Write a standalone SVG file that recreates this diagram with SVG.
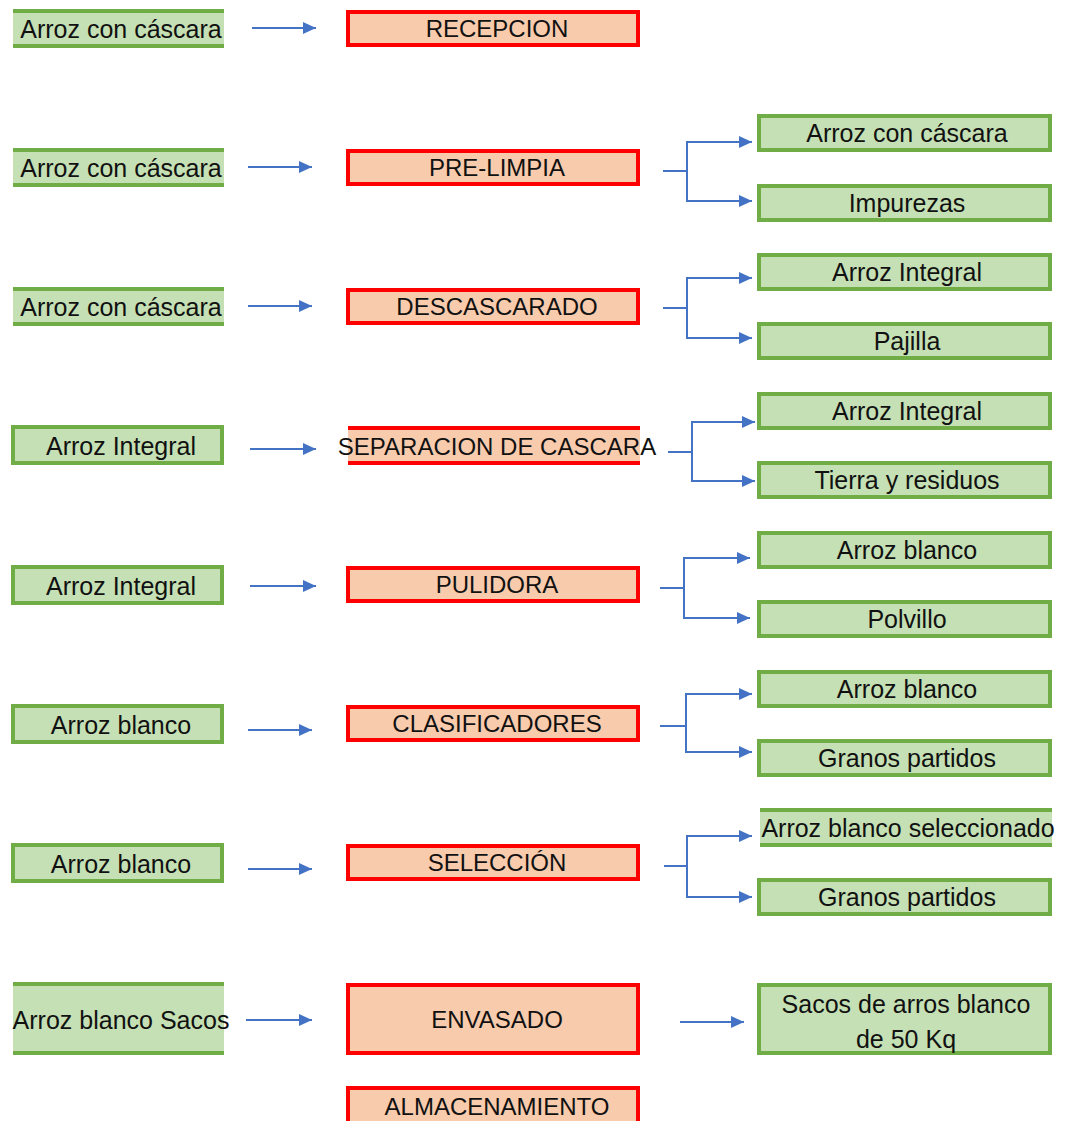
<svg xmlns="http://www.w3.org/2000/svg" width="1067" height="1121" viewBox="0 0 1067 1121">
  <style>
    .gbox { fill: #c5e0b4; stroke: #70ad47; stroke-width: 4; }
    .gfill { fill: #c5e0b4; }
    .gline { stroke: #70ad47; stroke-width: 4; }
    .obox { fill: #f8cbad; stroke: #ff0000; stroke-width: 4; }
    .ofill { fill: #f8cbad; }
    .oline { stroke: #ff0000; stroke-width: 4; }
    .t { font-family: "Liberation Sans", Arial, sans-serif; font-size: 25px; fill: #111; text-anchor: middle; }
    .c { font-family: "Liberation Sans", Arial, sans-serif; font-size: 24px; fill: #111; text-anchor: middle; }
    .link { fill: none; stroke: #4472c4; stroke-width: 2; }
  </style>
  <defs>
    <marker id="arrow" markerUnits="userSpaceOnUse" markerWidth="14" markerHeight="12" refX="13" refY="6" orient="auto">
      <path d="M0,0 L13,6 L0,12 Z" fill="#4472c4"/>
    </marker>
  </defs>
  <rect width="1067" height="1121" fill="#ffffff"/>

  <!-- inputs (left column) -->
  <g id="in-recepcion">
    <rect class="gfill" x="13" y="10" width="211" height="38"/>
    <line class="gline" x1="13" y1="11" x2="224" y2="11"/>
    <line class="gline" x1="13" y1="46" x2="224" y2="46"/>
    <text class="t" x="121" y="38">Arroz con cáscara</text>
  </g>
  <g id="in-prelimpia">
    <rect class="gfill" x="13" y="149" width="211" height="38"/>
    <line class="gline" x1="13" y1="150" x2="224" y2="150"/>
    <line class="gline" x1="13" y1="185" x2="224" y2="185"/>
    <text class="t" x="121" y="177">Arroz con cáscara</text>
  </g>
  <g id="in-descascarado">
    <rect class="gfill" x="13" y="288" width="211" height="38"/>
    <line class="gline" x1="13" y1="289" x2="224" y2="289"/>
    <line class="gline" x1="13" y1="324" x2="224" y2="324"/>
    <text class="t" x="121" y="316">Arroz con cáscara</text>
  </g>
  <g id="in-separacion">
    <rect class="gbox" x="13" y="427" width="209" height="36"/>
    <text class="t" x="121" y="455">Arroz Integral</text>
  </g>
  <g id="in-pulidora">
    <rect class="gbox" x="13" y="567" width="209" height="36"/>
    <text class="t" x="121" y="595">Arroz Integral</text>
  </g>
  <g id="in-clasificadores">
    <rect class="gbox" x="13" y="706" width="209" height="36"/>
    <text class="t" x="121" y="734">Arroz blanco</text>
  </g>
  <g id="in-seleccion">
    <rect class="gbox" x="13" y="845" width="209" height="36"/>
    <text class="t" x="121" y="873">Arroz blanco</text>
  </g>
  <g id="in-envasado">
    <rect class="gfill" x="13" y="983" width="211" height="72"/>
    <line class="gline" x1="13" y1="984" x2="224" y2="984"/>
    <line class="gline" x1="13" y1="1053" x2="224" y2="1053"/>
    <text class="t" x="121" y="1029">Arroz blanco Sacos</text>
  </g>

  <!-- process steps (middle column) -->
  <g id="recepcion">
    <rect class="obox" x="348" y="12" width="290" height="33"/>
    <text class="c" x="497" y="37">RECEPCION</text>
  </g>
  <g id="prelimpia">
    <rect class="obox" x="348" y="151" width="290" height="33"/>
    <text class="c" x="497" y="176">PRE-LIMPIA</text>
  </g>
  <g id="descascarado">
    <rect class="obox" x="348" y="290" width="290" height="33"/>
    <text class="c" x="497" y="315">DESCASCARADO</text>
  </g>
  <g id="separacion">
    <rect class="ofill" x="348" y="426" width="292" height="39"/>
    <line class="oline" x1="348" y1="428" x2="640" y2="428"/>
    <line class="oline" x1="348" y1="463" x2="640" y2="463"/>
    <text class="c" x="497" y="455">SEPARACION DE CASCARA</text>
  </g>
  <g id="pulidora">
    <rect class="obox" x="348" y="568" width="290" height="33"/>
    <text class="c" x="497" y="593">PULIDORA</text>
  </g>
  <g id="clasificadores">
    <rect class="obox" x="348" y="707" width="290" height="33"/>
    <text class="c" x="497" y="732">CLASIFICADORES</text>
  </g>
  <g id="seleccion">
    <rect class="obox" x="348" y="846" width="290" height="33"/>
    <text class="c" x="497" y="871">SELECCIÓN</text>
  </g>
  <g id="envasado">
    <rect class="obox" x="348" y="985" width="290" height="68"/>
    <text class="c" x="497" y="1028">ENVASADO</text>
  </g>
  <g id="almacenamiento">
    <rect class="obox" x="348" y="1088" width="290" height="40"/>
    <text class="c" x="497" y="1115">ALMACENAMIENTO</text>
  </g>

  <!-- outputs (right column) -->
  <g id="out-prelimpia-1">
    <rect class="gbox" x="759" y="116" width="291" height="34"/>
    <text class="t" x="907" y="142">Arroz con cáscara</text>
  </g>
  <g id="out-prelimpia-2">
    <rect class="gbox" x="759" y="186" width="291" height="34"/>
    <text class="t" x="907" y="212">Impurezas</text>
  </g>
  <g id="out-descascarado-1">
    <rect class="gbox" x="759" y="255" width="291" height="34"/>
    <text class="t" x="907" y="281">Arroz Integral</text>
  </g>
  <g id="out-descascarado-2">
    <rect class="gbox" x="759" y="324" width="291" height="34"/>
    <text class="t" x="907" y="350">Pajilla</text>
  </g>
  <g id="out-separacion-1">
    <rect class="gbox" x="759" y="394" width="291" height="34"/>
    <text class="t" x="907" y="420">Arroz Integral</text>
  </g>
  <g id="out-separacion-2">
    <rect class="gbox" x="759" y="463" width="291" height="34"/>
    <text class="t" x="907" y="489">Tierra y residuos</text>
  </g>
  <g id="out-pulidora-1">
    <rect class="gbox" x="759" y="533" width="291" height="34"/>
    <text class="t" x="907" y="559">Arroz blanco</text>
  </g>
  <g id="out-pulidora-2">
    <rect class="gbox" x="759" y="602" width="291" height="34"/>
    <text class="t" x="907" y="628">Polvillo</text>
  </g>
  <g id="out-clasificadores-1">
    <rect class="gbox" x="759" y="672" width="291" height="34"/>
    <text class="t" x="907" y="698">Arroz blanco</text>
  </g>
  <g id="out-clasificadores-2">
    <rect class="gbox" x="759" y="741" width="291" height="34"/>
    <text class="t" x="907" y="767">Granos partidos</text>
  </g>
  <g id="out-seleccion-1">
    <rect class="gfill" x="760" y="809" width="292" height="38"/>
    <line class="gline" x1="760" y1="810" x2="1052" y2="810"/>
    <line class="gline" x1="760" y1="845" x2="1052" y2="845"/>
    <text class="t" x="908" y="837">Arroz blanco seleccionado</text>
  </g>
  <g id="out-seleccion-2">
    <rect class="gbox" x="759" y="880" width="291" height="34"/>
    <text class="t" x="907" y="906">Granos partidos</text>
  </g>
  <g id="out-envasado">
    <rect class="gbox" x="759" y="985" width="291" height="68"/>
    <text class="t" x="906" y="1013">Sacos de arros blanco</text>
    <text class="t" x="906" y="1048">de 50 Kq</text>
  </g>

  <!-- connectors -->
  <g id="connectors">
    <line class="link" x1="252" y1="28" x2="316" y2="28" marker-end="url(#arrow)"/>
    <line class="link" x1="248" y1="167" x2="312" y2="167" marker-end="url(#arrow)"/>
    <line class="link" x1="248" y1="306" x2="312" y2="306" marker-end="url(#arrow)"/>
    <line class="link" x1="250" y1="449" x2="316" y2="449" marker-end="url(#arrow)"/>
    <line class="link" x1="250" y1="586" x2="316" y2="586" marker-end="url(#arrow)"/>
    <line class="link" x1="248" y1="730" x2="312" y2="730" marker-end="url(#arrow)"/>
    <line class="link" x1="248" y1="869" x2="312" y2="869" marker-end="url(#arrow)"/>
    <line class="link" x1="246" y1="1020" x2="312" y2="1020" marker-end="url(#arrow)"/>
    <line class="link" x1="680" y1="1022" x2="744" y2="1022" marker-end="url(#arrow)"/>

    <!-- splits into two outputs -->
    <line class="link" x1="663" y1="171" x2="687" y2="171"/>
    <path class="link" d="M687,171 V142 H752" marker-end="url(#arrow)"/>
    <path class="link" d="M687,171 V201 H752" marker-end="url(#arrow)"/>
    <line class="link" x1="663" y1="308" x2="687" y2="308"/>
    <path class="link" d="M687,308 V278 H752" marker-end="url(#arrow)"/>
    <path class="link" d="M687,308 V338 H752" marker-end="url(#arrow)"/>
    <line class="link" x1="668" y1="452" x2="692" y2="452"/>
    <path class="link" d="M692,452 V422 H755" marker-end="url(#arrow)"/>
    <path class="link" d="M692,452 V481 H755" marker-end="url(#arrow)"/>
    <line class="link" x1="660" y1="588" x2="684" y2="588"/>
    <path class="link" d="M684,588 V558 H750" marker-end="url(#arrow)"/>
    <path class="link" d="M684,588 V618 H750" marker-end="url(#arrow)"/>
    <line class="link" x1="660" y1="726" x2="686" y2="726"/>
    <path class="link" d="M686,726 V694 H752" marker-end="url(#arrow)"/>
    <path class="link" d="M686,726 V752 H752" marker-end="url(#arrow)"/>
    <line class="link" x1="664" y1="866" x2="687" y2="866"/>
    <path class="link" d="M687,866 V836 H752" marker-end="url(#arrow)"/>
    <path class="link" d="M687,866 V897 H752" marker-end="url(#arrow)"/>
  </g>
</svg>
